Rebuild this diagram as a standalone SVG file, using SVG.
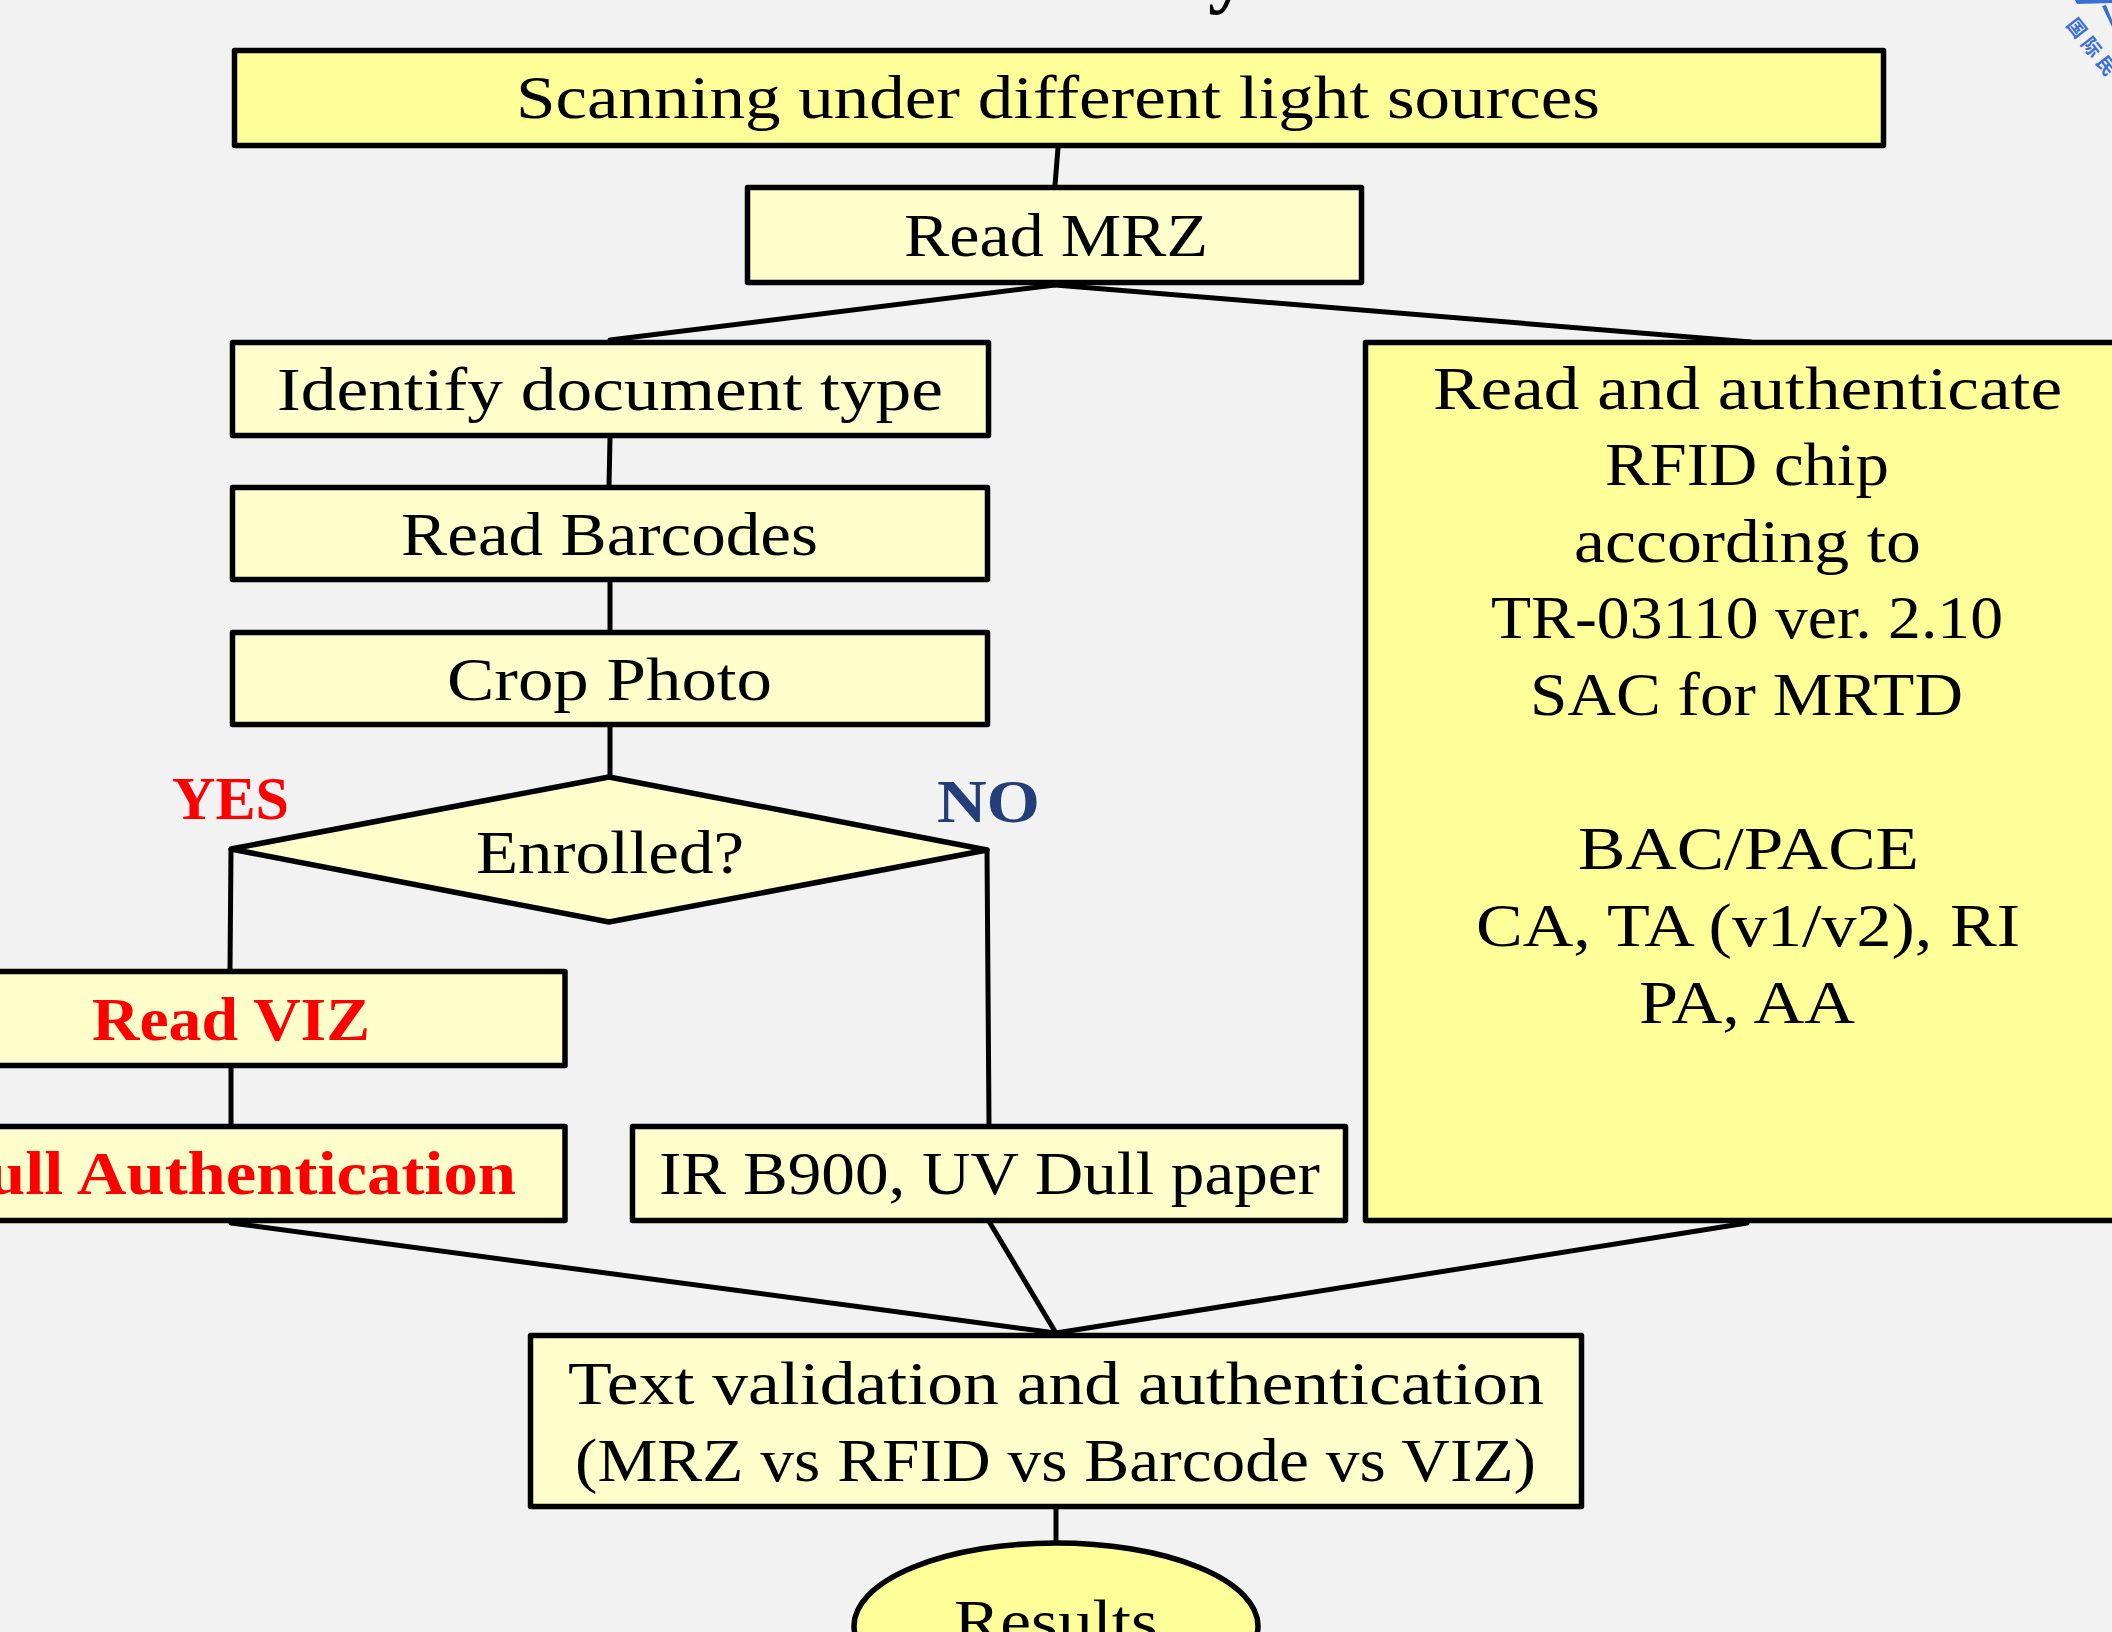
<svg xmlns="http://www.w3.org/2000/svg" width="2112" height="1632" viewBox="0 0 2112 1632">
<style>
.bg{fill:#f2f2f2}
.box{stroke:#000;stroke-width:5.5;stroke-linejoin:round}
.lt{fill:#ffffcc}
.dk{fill:#ffff99}
.t{font-family:"Liberation Serif","Times New Roman",serif;font-size:62px;fill:#000}
.b{font-weight:bold}
.red{fill:#ff0000}
.blue{fill:#233e78}
.conn line{stroke:#000;stroke-width:5;stroke-linecap:round}
</style>
<rect class="bg" x="0" y="0" width="2112" height="1632"/>
<!-- partial title -->
<text x="1208" y="-3" style="font-family:'Liberation Serif',serif;font-size:82px;font-weight:bold;fill:#000">y</text>
<!-- partial logo top right -->
<g id="logo" fill="#3a6fd6">
<path d="M2075 0 H2112 V3 Q2095 3.5 2077 4 Z"/>
<path d="M2102 6 L2106 5 L2112 20 L2112 27 Z"/>
<text transform="translate(2065.5,24.8) rotate(52)" style="font-family:'Noto Sans CJK SC',sans-serif;font-size:19px;font-weight:bold;letter-spacing:5px" fill="#3a6fd6">国际民</text>
</g>
<g class="conn" id="connectors">
<line x1="1058" y1="148" x2="1055" y2="185"/>
<line x1="1055" y1="285" x2="610" y2="340"/>
<line x1="1055" y1="285" x2="1751" y2="342"/>
<line x1="610" y1="438" x2="609" y2="486"/>
<line x1="610" y1="582" x2="610" y2="630"/>
<line x1="610" y1="727" x2="610" y2="777"/>
<line x1="231" y1="850" x2="230" y2="969"/>
<line x1="231" y1="1068" x2="231" y2="1124"/>
<line x1="987" y1="850" x2="989" y2="1124"/>
<line x1="231" y1="1223" x2="1056" y2="1333"/>
<line x1="990" y1="1223" x2="1056" y2="1333"/>
<line x1="1747" y1="1223" x2="1056" y2="1333"/>
<line x1="1056" y1="1509" x2="1056" y2="1542"/>
</g>
<g id="scan">
<rect class="box dk" x="234.5" y="50.5" width="1649" height="95"/>
<text class="t" x="516" y="118" textLength="1084" lengthAdjust="spacingAndGlyphs">Scanning under different light sources</text>
</g>
<g id="mrz">
<rect class="box lt" x="747.5" y="187.5" width="614" height="95"/>
<text class="t" x="904" y="256" textLength="304" lengthAdjust="spacingAndGlyphs">Read MRZ</text>
</g>
<g id="identify">
<rect class="box lt" x="232.5" y="342.5" width="756" height="93"/>
<text class="t" x="277" y="410" textLength="666" lengthAdjust="spacingAndGlyphs">Identify document type</text>
</g>
<g id="barcodes">
<rect class="box lt" x="232.5" y="487.5" width="755" height="92"/>
<text class="t" x="401" y="555" textLength="417" lengthAdjust="spacingAndGlyphs">Read Barcodes</text>
</g>
<g id="photo">
<rect class="box lt" x="232.5" y="632.5" width="755" height="92"/>
<text class="t" x="447" y="700" textLength="325" lengthAdjust="spacingAndGlyphs">Crop Photo</text>
</g>
<g id="enrolled">
<polygon class="box lt" points="231,849 609,777 987,850 609,922"/>
<text class="t" x="476" y="873" textLength="268" lengthAdjust="spacingAndGlyphs">Enrolled?</text>
</g>
<g id="yes">
<text class="t b red" x="172" y="819" textLength="117" lengthAdjust="spacingAndGlyphs">YES</text>
</g>
<g id="no">
<text class="t b blue" x="937" y="822" textLength="103" lengthAdjust="spacingAndGlyphs">NO</text>
</g>
<g id="viz">
<rect class="box lt" x="-10" y="971.5" width="575" height="94"/>
<text class="t b red" x="92" y="1040" textLength="278" lengthAdjust="spacingAndGlyphs">Read VIZ</text>
</g>
<g id="fullauth">
<rect class="box lt" x="-10" y="1126.5" width="575" height="94"/>
<text class="t b red" x="-55" y="1194" textLength="571" lengthAdjust="spacingAndGlyphs">Full Authentication</text>
</g>
<g id="ir">
<rect class="box lt" x="632.5" y="1126.5" width="713" height="94"/>
<text class="t" x="659" y="1194" textLength="661" lengthAdjust="spacingAndGlyphs">IR B900, UV Dull paper</text>
</g>
<g id="rfid">
<rect class="box dk" x="1365.5" y="342.5" width="800" height="878"/>
<text class="t" x="1433" y="409" textLength="629" lengthAdjust="spacingAndGlyphs">Read and authenticate</text>
<text class="t" x="1605" y="485" textLength="284" lengthAdjust="spacingAndGlyphs">RFID chip</text>
<text class="t" x="1574" y="562" textLength="347" lengthAdjust="spacingAndGlyphs">according to</text>
<text class="t" x="1491" y="638" textLength="512" lengthAdjust="spacingAndGlyphs">TR-03110 ver. 2.10</text>
<text class="t" x="1530" y="715" textLength="433" lengthAdjust="spacingAndGlyphs">SAC for MRTD</text>
<text class="t" x="1578" y="869" textLength="341" lengthAdjust="spacingAndGlyphs">BAC/PACE</text>
<text class="t" x="1476" y="946" textLength="544" lengthAdjust="spacingAndGlyphs">CA, TA (v1/v2), RI</text>
<text class="t" x="1639" y="1023" textLength="216" lengthAdjust="spacingAndGlyphs">PA, AA</text>
</g>
<g id="validation">
<rect class="box lt" x="530.5" y="1335.5" width="1051" height="171"/>
<text class="t" x="568" y="1404" textLength="976" lengthAdjust="spacingAndGlyphs">Text validation and authentication</text>
<text class="t" x="575" y="1481" textLength="961" lengthAdjust="spacingAndGlyphs">(MRZ vs RFID vs Barcode vs VIZ)</text>
</g>
<g id="results">
<ellipse class="box dk" cx="1056" cy="1626" rx="202" ry="83"/>
<text class="t" x="954" y="1642" textLength="204" lengthAdjust="spacingAndGlyphs">Results</text>
</g>
</svg>
